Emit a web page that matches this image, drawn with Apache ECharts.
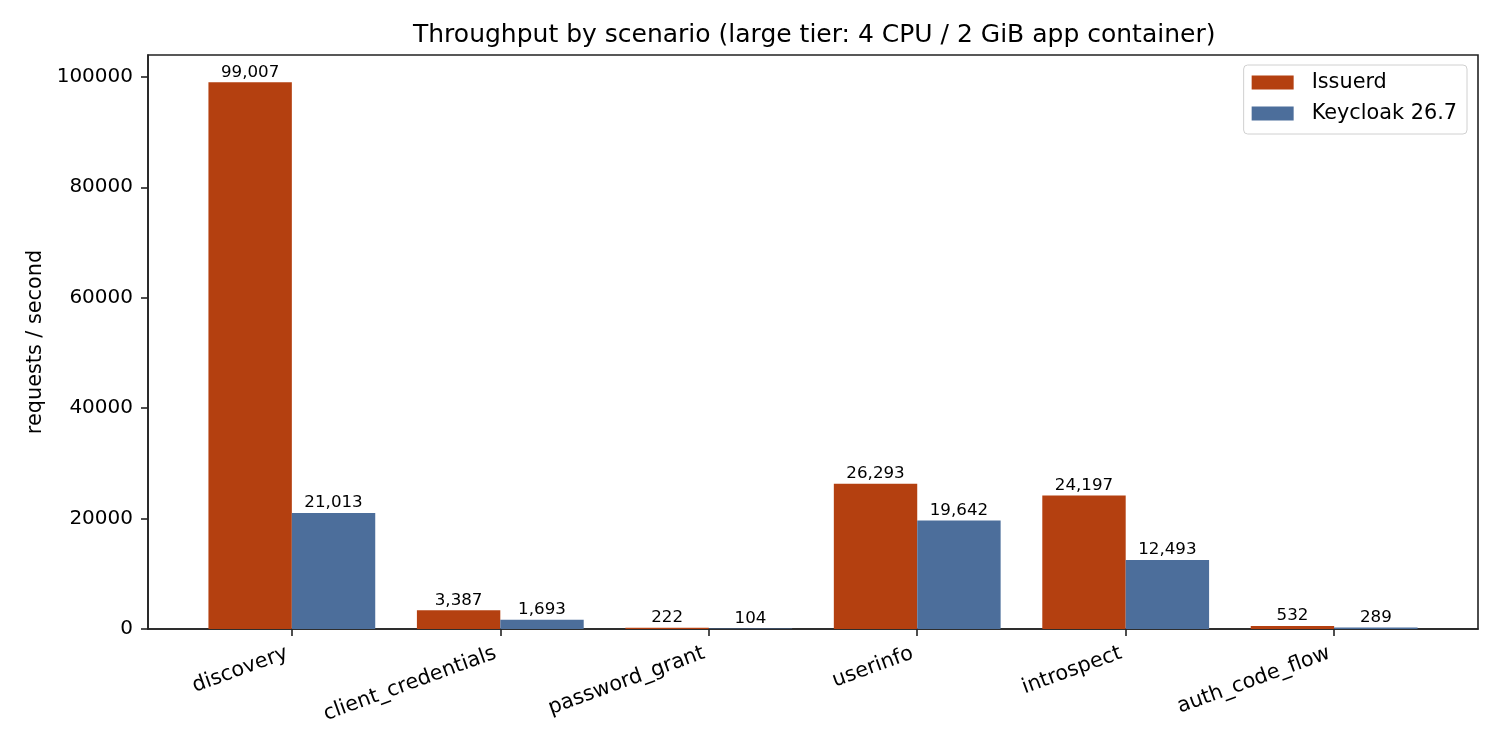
<!DOCTYPE html>
<html>
<head>
<meta charset="utf-8">
<script src="https://cdn.jsdelivr.net/npm/echarts@6/dist/echarts.min.js"></script>
<style>
html, body { margin: 0; padding: 0; background: #fff; }
#throughput { width: 1500px; height: 750px; }
</style>
</head>
<body>
<div id="throughput"></div>
<script>
var scenarios = ['discovery', 'client_credentials', 'password_grant', 'userinfo', 'introspect', 'auth_code_flow'];
var issuerdRps = [99007, 3387, 222, 26293, 24197, 532];
var keycloakRps = [21013, 1693, 104, 19642, 12493, 289];
var yTicks = [0, 20000, 40000, 60000, 80000, 100000];

var font = 'DejaVu Sans';
var ink = '#222';

// value axis so the groups sit where matplotlib put them
function toPoints(arr) {
	var out = [];
	for (var i = 0; i < arr.length; i++) {
		out.push([i, arr[i]]);
	}
	return out;
}

function barLabel(p) {
	return p.value[1].toLocaleString('en-US');
}

var chart = echarts.init(document.getElementById('throughput'));
var option = {
	animation: false,
	textStyle: { fontFamily: font },
	title: {
		text: 'Throughput by scenario (large tier: 4 CPU / 2 GiB app container)',
		left: 408,
		top: 18,
		textStyle: { fontFamily: font, fontSize: 25, fontWeight: 'normal', color: '#000' }
	},
	legend: {
		orient: 'vertical',
		right: 33,
		top: 65,
		icon: 'rect',
		itemWidth: 42,
		itemHeight: 14,
		itemGap: 10,
		padding: [7, 10, 10, 8],
		borderColor: '#d0d0d0',
		borderWidth: 1,
		borderRadius: 4,
		textStyle: { fontFamily: font, fontSize: 20.8, color: '#000', padding: [0, 0, 0, 13] },
		data: ['Issuerd', 'Keycloak 26.7']
	},
	grid: {
		left: 148,
		right: 22,
		top: 55,
		bottom: 121,
		show: true,
		borderColor: ink,
		borderWidth: 1.6,
		containLabel: false
	},
	xAxis: {
		type: 'value',
		min: -0.69,
		max: 5.69,
		splitLine: { show: false },
		axisLine: { onZero: false, lineStyle: { color: ink, width: 1.6 } },
		axisTick: { show: true, length: 7, customValues: [0, 1, 2, 3, 4, 5], lineStyle: { color: ink, width: 1.6 } },
		axisLabel: {
			customValues: [0, 1, 2, 3, 4, 5],
			rotate: 20,
			margin: 22,
			padding: [0, 5, 0, 0],
			fontFamily: font,
			fontSize: 20.8,
			color: '#000',
			formatter: function (value) {
				return scenarios[Math.round(value)];
			}
		}
	},
	yAxis: {
		type: 'value',
		min: 0,
		max: 103957,
		name: 'requests / second',
		nameLocation: 'middle',
		nameGap: 102,
		nameTextStyle: { fontFamily: font, fontSize: 20.8, color: '#000' },
		splitLine: { show: false },
		axisLine: { show: true, onZero: false, lineStyle: { color: ink, width: 1.6 } },
		axisTick: { show: true, length: 7, customValues: yTicks, lineStyle: { color: ink, width: 1.6 } },
		axisLabel: {
			customValues: yTicks,
			margin: 15,
			fontFamily: font,
			fontSize: 20,
			color: '#000',
			formatter: function (v) { return String(v); }
		}
	},
	series: [
		{
			name: 'Issuerd',
			type: 'bar',
			barWidth: 83.4,
			barGap: '0%',
			itemStyle: { color: '#b44010' },
			label: { show: true, position: 'top', distance: 1.5, fontFamily: font, fontSize: 16.7, color: '#000', formatter: barLabel },
			data: toPoints(issuerdRps)
		},
		{
			name: 'Keycloak 26.7',
			type: 'bar',
			barWidth: 83.4,
			barGap: '0%',
			itemStyle: { color: '#4c6e9b' },
			label: { show: true, position: 'top', distance: 1.5, fontFamily: font, fontSize: 16.7, color: '#000', formatter: barLabel },
			data: toPoints(keycloakRps)
		}
	]
};
chart.setOption(option);
</script>
</body>
</html>
